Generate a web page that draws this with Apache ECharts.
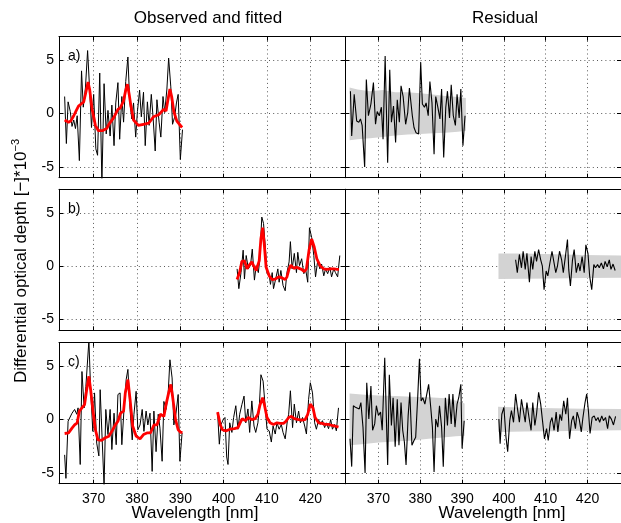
<!DOCTYPE html>
<html><head><meta charset="utf-8">
<script src="https://cdn.jsdelivr.net/npm/echarts@6/dist/echarts.min.js"></script>
<style>html,body{margin:0;padding:0;background:#fff}#c{width:621px;height:523px}</style>
</head><body><div id="c"></div>
<script>
// ---------- DATA (wavelength nm, value 1e-3) ----------
const xTicks = [370, 380, 390, 400, 410, 420];
const yTicks = [-5, 0, 5];
const panelLabels = ['a)', 'b)', 'c)'];
const colTitles = ['Observed and fitted', 'Residual'];

// Row a
const obsA = [[363.3,1.6],[363.7,-2.8],[364.1,1.1],[364.6,0.2],[365.0,-1.2],[365.4,-0.6],[365.8,-1.4],[366.2,-0.2],[366.7,-4.4],[367.2,4.0],[367.6,0.6],[368.1,2.4],[368.6,5.9],[369.1,2.0],[369.5,-1.3],[370.0,1.8],[370.5,-3.3],[370.9,-3.9],[371.4,3.8],[371.9,-6.5],[372.4,2.8],[372.9,-1.9],[373.3,0.3],[373.8,-2.1],[374.2,0.8],[374.7,-3.0],[375.1,1.0],[375.6,2.9],[376.0,-2.4],[376.5,1.6],[376.9,-0.8],[377.4,3.0],[377.9,5.3],[378.3,1.3],[378.8,-0.5],[379.2,1.0],[379.7,-2.2],[380.1,0.2],[380.6,2.2],[381.0,-0.3],[381.5,2.0],[381.9,-3.0],[382.4,1.1],[382.8,-1.1],[383.3,1.8],[383.7,-0.3],[384.2,-3.5],[384.6,1.3],[385.1,-0.8],[385.5,-2.2],[386.0,1.6],[386.4,0.1],[386.9,2.3],[387.3,5.2],[387.8,2.5],[388.2,-1.0],[388.7,-0.3],[389.1,1.0],[389.5,1.8],[390.0,-4.3],[390.5,-1.5]];
const fitA = [[363.3,-0.6],[364.2,-0.8],[364.7,-0.7],[365.4,-0.2],[366.0,0.3],[366.5,0.7],[367.1,0.9],[367.7,1.1],[368.2,2.0],[368.7,2.95],[369.1,2.2],[369.6,0.5],[370.4,-1.1],[371.1,-1.6],[372.0,-1.6],[373.0,-1.4],[373.5,-1.0],[374.6,-0.4],[375.6,0.4],[376.1,0.5],[376.9,1.2],[377.4,2.2],[377.8,2.75],[378.2,1.8],[378.6,0.7],[379.2,-0.6],[380.3,-1.1],[381.5,-1.0],[382.7,-0.9],[383.8,-0.3],[385.0,-0.1],[386.2,0.4],[386.7,0.25],[387.1,1.2],[387.6,2.3],[388.0,1.6],[388.5,0.2],[389.2,-0.7],[390.4,-1.3]];
const resA = [[363.3,2.1],[363.6,-2.1],[364.2,1.8],[364.8,-0.7],[365.3,-0.8],[365.7,-0.5],[366.1,-1.1],[366.7,-5.0],[367.1,3.2],[367.6,-0.2],[368.2,0.9],[368.8,2.9],[369.3,-1.0],[369.7,0.2],[370.2,-0.2],[370.7,0.6],[371.1,-2.4],[371.6,5.4],[372.2,-4.6],[372.7,4.1],[373.1,-0.8],[373.6,0.7],[374.1,-2.7],[374.5,1.3],[375.0,-0.8],[375.4,2.6],[375.9,1.6],[376.5,-1.0],[377.0,0.1],[377.4,2.4],[378.1,-0.2],[378.5,-1.3],[379.0,-1.8],[379.6,-1.9],[380.1,4.8],[380.5,0.9],[381.0,0.6],[381.4,1.0],[381.9,-0.2],[382.3,3.0],[382.8,1.0],[383.3,-3.8],[383.7,1.6],[384.2,0.6],[384.7,-0.5],[385.1,2.3],[385.6,-4.1],[386.1,0.6],[386.5,2.1],[387.0,-0.4],[387.4,2.7],[387.9,-0.2],[388.4,-1.1],[388.8,1.8],[389.3,-0.4],[389.7,2.3],[390.2,-3.0],[390.7,-0.2]];
const bandA = [[363.1,2.45,-2.5],[365,2.25,-2.4],[368,2.1,-2.3],[371,2.2,-2.2],[374,2.0,-2.05],[377,2.0,-1.95],[380,1.9,-1.9],[383,1.8,-1.85],[386,1.65,-1.8],[389,1.55,-1.7],[390.9,1.45,-1.6]];

// Row b
const obsB = [[403.1,-0.25],[403.5,-2.1],[404.0,-0.6],[404.5,1.5],[404.8,-1.2],[405.2,1.0],[405.7,-0.25],[406.2,0.1],[406.6,1.6],[407.1,-1.3],[407.5,0.05],[408.0,-0.6],[408.3,0.5],[408.8,4.6],[409.2,4.0],[409.7,1.3],[410.0,-0.7],[410.5,-0.8],[410.8,-1.7],[411.2,-0.6],[411.5,-2.1],[412.0,-1.2],[412.5,-0.25],[412.8,-1.5],[413.2,-0.4],[413.7,-1.8],[414.2,-2.3],[414.6,-0.6],[415.1,0.4],[415.4,2.3],[415.8,-0.25],[416.3,1.2],[416.8,-0.6],[417.1,1.3],[417.5,0.05],[418.0,0.7],[418.5,-0.7],[418.9,-0.25],[419.4,-1.5],[419.8,3.6],[420.3,2.7],[420.8,1.0],[421.2,-1.0],[421.7,0.5],[422.2,-0.25],[422.6,0.2],[423.1,-0.9],[423.5,-0.25],[424.0,-0.7],[424.5,-0.1],[424.9,-1.0],[425.4,-0.25],[425.8,-0.6],[426.3,-1.0],[426.8,1.0]];
const fitB = [[403.1,-1.25],[403.7,-0.55],[404.2,0.45],[404.8,0.5],[405.4,-0.25],[405.8,0.05],[406.5,0.4],[406.9,0.05],[407.5,-0.4],[408.2,0.5],[408.6,2.6],[409.0,3.6],[409.4,1.9],[409.8,-0.1],[410.5,-0.9],[411.2,-1.25],[411.9,-1.2],[412.7,-1.0],[413.5,-1.1],[414.2,-1.25],[414.6,-1.0],[415.1,-0.25],[415.5,0.1],[416.2,-0.2],[416.8,-0.1],[417.4,-0.2],[418.0,-0.3],[418.6,-0.5],[419.1,-0.25],[419.7,1.5],[420.3,2.55],[420.9,1.8],[421.5,0.7],[422.3,0.0],[423.1,-0.25],[423.8,-0.3],[424.6,-0.25],[425.4,-0.25],[426.2,-0.3],[426.6,-0.3]];
const resB = [[402.8,0.6],[403.2,-0.6],[403.7,1.1],[404.2,-0.15],[404.6,1.4],[405.1,-0.3],[405.5,1.2],[406.1,-1.5],[406.5,0.9],[406.9,-0.3],[407.4,1.4],[407.8,0.45],[408.3,1.55],[408.8,0.6],[409.2,0.0],[409.6,-2.2],[410.1,-0.45],[410.5,-0.9],[411.0,0.3],[411.5,1.4],[411.9,1.55],[412.4,-0.6],[412.8,0.0],[413.3,1.4],[413.8,0.6],[414.2,-0.6],[414.7,0.9],[415.2,2.5],[415.5,-0.3],[415.9,-1.85],[416.4,0.6],[416.8,1.55],[417.3,-0.6],[417.8,0.3],[418.2,-0.45],[418.7,0.9],[419.2,-0.6],[419.6,2.0],[420.1,1.2],[420.5,-0.9],[421.0,-2.2],[421.5,0.15],[421.9,-0.15],[422.4,0.15],[422.8,-0.15],[423.3,0.3],[423.8,-0.25],[424.2,0.45],[424.7,-0.05],[425.2,0.6],[425.6,-0.3],[426.1,0.2],[426.6,-0.4]];
const bandB = [[398.7,1.2,-1.2],[405,1.18,-1.18],[412,1.12,-1.14],[419,1.05,-1.1],[428,1.0,-1.08]];

// Row c
const obsC1 = [[363.3,-3.3],[363.6,-5.5],[364.1,-0.15],[364.5,0.0],[365.0,0.6],[365.3,0.5],[365.6,0.95],[366.1,0.5],[366.4,1.1],[366.9,-4.2],[367.3,4.5],[367.8,1.1],[368.2,3.1],[368.9,7.4],[369.3,2.8],[369.8,-1.1],[370.2,2.5],[370.7,-2.2],[371.2,-3.4],[371.5,2.8],[371.9,-1.25],[372.4,-6.2],[372.8,0.95],[373.3,-1.4],[373.8,0.95],[374.2,-2.8],[374.7,0.6],[375.2,-2.35],[375.6,2.35],[376.1,2.5],[376.5,-2.35],[377.0,0.95],[377.5,3.75],[377.9,4.7],[378.4,0.95],[378.9,-1.9],[379.3,0.5],[379.8,2.65],[380.2,-0.95],[380.7,-0.5],[381.2,0.95],[381.6,-1.1],[382.1,0.8],[382.5,-0.5],[383.0,0.6],[383.5,-4.85],[383.9,0.8],[384.4,-3.0],[384.9,0.5],[385.3,-0.8],[385.8,-3.9],[386.2,1.7],[386.7,0.95],[387.2,2.5],[387.6,5.6],[388.1,3.9],[388.5,-0.5],[389.0,0.6],[389.5,2.35],[389.9,-3.9],[390.4,-1.25]];
const fitC1 = [[363.3,-1.3],[364.2,-1.25],[365.0,-0.8],[365.6,-0.5],[366.2,-0.3],[366.7,0.8],[367.3,1.1],[367.9,1.4],[368.5,3.1],[368.9,4.05],[369.3,2.8],[369.8,0.95],[370.4,-0.95],[371.0,-1.9],[371.8,-1.95],[372.7,-1.7],[373.5,-1.55],[374.2,-1.1],[375.0,-0.5],[375.6,-0.15],[376.2,0.6],[376.9,0.8],[377.3,2.5],[377.9,3.75],[378.4,1.9],[379.0,-0.6],[379.8,-1.55],[380.7,-1.8],[381.5,-1.4],[382.3,-1.25],[383.1,-1.25],[383.9,-0.5],[384.6,-0.5],[385.4,0.5],[386.2,0.3],[386.7,1.4],[387.3,2.5],[387.8,3.3],[388.2,2.2],[388.9,0.0],[389.5,-0.95],[390.1,-1.2],[390.5,-1.2]];
const obsC2 = [[398.6,0.65],[399.0,-2.3],[399.4,-0.45],[399.9,0.0],[400.3,0.2],[400.7,-3.5],[401.0,-4.2],[401.4,-0.3],[401.9,-1.2],[402.3,0.2],[402.8,1.3],[403.3,-0.9],[403.7,0.5],[404.2,1.4],[404.7,2.2],[405.1,-0.3],[405.6,1.0],[406.0,-1.2],[406.5,1.75],[407.0,-0.6],[407.4,-1.2],[407.9,-0.3],[408.2,1.0],[408.6,4.2],[409.1,3.6],[409.6,1.1],[410.0,-0.9],[410.5,-1.05],[411.0,-2.1],[411.4,-0.6],[411.9,-1.35],[412.3,-0.3],[412.8,-0.9],[413.3,-0.45],[413.7,-1.2],[414.2,-1.8],[414.7,-0.1],[415.0,0.5],[415.4,2.7],[415.9,-0.75],[416.3,1.45],[416.8,-0.3],[417.3,0.8],[417.7,-0.3],[418.2,0.2],[418.7,-0.6],[419.1,-1.35],[419.6,1.9],[420.0,3.45],[420.5,2.5],[421.0,-0.3],[421.4,-0.9],[421.9,0.0],[422.3,-0.45],[422.8,-0.1],[423.3,-0.75],[423.7,-0.3],[424.2,-0.85],[424.7,0.0],[425.1,-0.9],[425.6,-0.45],[426.0,-1.05],[426.5,1.1]];
const fitC2 = [[398.6,0.7],[399.2,-0.45],[399.7,-0.95],[400.5,-1.05],[401.5,-0.9],[402.5,-0.85],[403.3,-0.75],[403.8,-0.3],[404.3,0.1],[405.0,-0.1],[405.7,0.2],[406.5,0.0],[407.3,0.1],[407.9,0.5],[408.4,1.4],[409.0,2.05],[409.4,1.4],[410.0,0.2],[410.7,-0.3],[411.5,-0.45],[412.3,-0.3],[413.0,-0.35],[413.8,-0.35],[414.3,-0.2],[415.0,0.2],[415.6,0.3],[416.3,0.1],[417.3,0.0],[418.0,-0.05],[418.8,0.0],[419.4,0.5],[420.0,1.45],[420.6,1.1],[421.1,0.2],[421.9,-0.3],[422.7,-0.35],[423.4,-0.45],[424.2,-0.45],[425.0,-0.55],[425.7,-0.6],[426.5,-0.7]];
const resC1 = [[363.2,-1.8],[363.6,-4.4],[364.0,1.3],[364.5,1.15],[364.9,1.3],[365.4,1.0],[365.8,1.6],[366.3,-0.7],[366.8,-5.0],[367.2,3.45],[367.7,0.05],[368.2,3.15],[368.6,-1.0],[369.1,-0.4],[369.5,1.3],[370.0,0.4],[370.5,0.7],[370.9,-1.0],[371.5,5.8],[372.2,-4.25],[372.6,4.2],[373.1,-0.55],[373.5,2.05],[374.0,-2.55],[374.5,1.9],[374.9,-2.4],[375.4,1.6],[375.8,-1.0],[376.2,-2.1],[376.6,-4.25],[377.1,0.35],[377.5,2.55],[378.0,-2.4],[378.5,-1.95],[378.9,-1.65],[379.4,2.2],[379.8,5.7],[380.2,1.75],[380.6,2.05],[381.1,1.45],[381.5,1.6],[382.0,3.3],[382.5,1.15],[382.9,-0.7],[383.3,-4.9],[383.7,0.05],[384.2,-0.7],[384.6,1.3],[385.1,-0.7],[385.5,-4.4],[386.0,2.05],[386.5,-0.55],[386.9,2.4],[387.4,-0.4],[387.8,2.4],[388.3,-0.7],[388.8,1.45],[389.2,2.05],[389.7,3.3],[390.0,-2.7],[390.5,-0.1]];
const resC2 = [[398.8,0.05],[399.1,-2.25],[399.5,0.5],[400.0,1.15],[400.5,-1.65],[400.9,-3.0],[401.4,-0.1],[401.8,0.85],[402.3,-0.25],[402.8,2.4],[403.2,1.15],[403.7,-0.25],[404.2,1.9],[404.6,1.75],[405.1,-0.25],[405.5,1.6],[406.0,0.2],[406.5,-1.0],[406.9,1.6],[407.4,-0.55],[407.8,0.5],[408.3,2.55],[408.8,1.45],[409.2,1.3],[409.7,-1.8],[410.2,-0.85],[410.6,-1.95],[411.1,-0.25],[411.5,0.2],[412.0,-1.0],[412.5,0.7],[412.9,-1.15],[413.4,0.5],[413.8,-0.1],[414.3,1.75],[414.8,0.5],[415.2,2.05],[415.7,-1.8],[416.2,-0.1],[416.6,0.35],[417.1,-0.85],[417.5,0.7],[418.0,0.05],[418.5,-1.15],[418.9,0.2],[419.4,1.6],[419.8,2.4],[420.2,0.85],[420.6,-1.3],[421.1,0.2],[421.6,0.35],[422.0,-0.1],[422.5,0.2],[422.9,-0.25],[423.4,0.35],[423.8,-0.1],[424.3,0.2],[424.8,-0.85],[425.2,0.35],[425.7,0.05],[426.2,-0.5],[426.7,0.3]];
const bandC1 = [[363.1,2.45,-2.4],[366,2.35,-2.3],[370,2.25,-2.15],[374,2.2,-2.05],[378,2.15,-1.95],[382,2.1,-1.8],[386,2.0,-1.65],[388.5,1.8,-1.55],[390.6,1.5,-1.5]];
const bandC2 = [[398.6,1.2,-1.17],[405,1.12,-1.12],[412,1.07,-1.08],[419,1.02,-1.04],[428,1.0,-1.0]];

// ---------- LAYOUT ----------
const FONT = "'Liberation Sans', Arial, Helvetica, sans-serif";
const ROW_TOP = [36.7, 189.3, 342.7], ROW_H = 141;
const COL_LEFT = [59, 345], COL_W = 286;
const XMIN = 362, XMAX = 428, YMIN = -6, YMAX = 7.2;

const grids = [], xAxes = [], yAxes = [], series = [];
const dotted = { type: [1, 3.2], color: '#222', width: 1, opacity: 0.75 };
for (let r = 0; r < 3; r++) for (let c = 0; c < 2; c++) {
  const gi = grids.length;
  grids.push({ left: COL_LEFT[c], top: ROW_TOP[r], width: COL_W, height: ROW_H, show: false });
  const lastRow = r === 2;
  xAxes.push({ gridIndex: gi, type: 'value', min: XMIN, max: XMAX, position: 'bottom',
    axisLine: { show: true, onZero: false, lineStyle: { color: '#000', width: 1 } },
    axisTick: { show: true, inside: true, length: 4, customValues: xTicks, lineStyle: { color: '#000' } },
    axisLabel: { show: lastRow, customValues: xTicks, color: '#000', fontSize: 14, fontFamily: FONT, margin: 8 },
    splitLine: { show: true, lineStyle: dotted } });
  xAxes.push({ gridIndex: gi, type: 'value', min: XMIN, max: XMAX, position: 'top',
    axisLine: { show: true, onZero: false, lineStyle: { color: '#000', width: 1 } },
    axisTick: { show: true, inside: true, length: 4, customValues: xTicks, lineStyle: { color: '#000' } },
    axisLabel: { show: false }, splitLine: { show: false } });
  yAxes.push({ gridIndex: gi, type: 'value', min: YMIN, max: YMAX, position: 'left',
    axisLine: { show: true, onZero: false, lineStyle: { color: '#000', width: 1 } },
    axisTick: { show: true, inside: true, length: 4, customValues: yTicks, lineStyle: { color: '#000' } },
    axisLabel: { show: c === 0, customValues: yTicks, color: '#000', fontSize: 14, fontFamily: FONT, margin: 5 },
    splitLine: { show: true, lineStyle: dotted } });
  yAxes.push({ gridIndex: gi, type: 'value', min: YMIN, max: YMAX, position: 'right',
    axisLine: { show: true, onZero: false, lineStyle: { color: '#000', width: 1 } },
    axisTick: { show: true, inside: true, length: 4, customValues: yTicks, lineStyle: { color: '#000' } },
    axisLabel: { show: false }, splitLine: { show: false } });
}
function ax(r, c) { const gi = r * 2 + c; return { xAxisIndex: gi * 2, yAxisIndex: gi * 2 }; }
function line(r, c, data, color, width, z) {
  return Object.assign({ type: 'line', data: data, symbol: 'none', silent: true, animation: false, z: z,
    lineStyle: { color: color, width: width }, clip: true }, ax(r, c));
}
function band(r, c, b) {
  return Object.assign({ type: 'custom', data: [[b[0][0], 0]], clip: true, silent: true, animation: false, z: 1,
    renderItem: function (params, api) {
      const pts = [];
      for (let i = 0; i < b.length; i++) pts.push(api.coord([b[i][0], b[i][1]]));
      for (let i = b.length - 1; i >= 0; i--) pts.push(api.coord([b[i][0], b[i][2]]));
      return { type: 'polygon', shape: { points: pts }, style: { fill: '#d3d3d3', stroke: null } };
    } }, ax(r, c));
}
const BLACK = '#000', RED = '#ff0000';
series.push(line(0, 0, obsA, BLACK, 1, 2), line(0, 0, fitA, RED, 2.8, 3));
series.push(band(0, 1, bandA), line(0, 1, resA, BLACK, 1.1, 2));
series.push(line(1, 0, obsB, BLACK, 1, 2), line(1, 0, fitB, RED, 2.8, 3));
series.push(band(1, 1, bandB), line(1, 1, resB, BLACK, 1.1, 2));
series.push(line(2, 0, obsC1, BLACK, 1, 2), line(2, 0, obsC2, BLACK, 1, 2),
            line(2, 0, fitC1, RED, 2.8, 3), line(2, 0, fitC2, RED, 2.8, 3));
series.push(band(2, 1, bandC1), band(2, 1, bandC2), line(2, 1, resC1, BLACK, 1.1, 2), line(2, 1, resC2, BLACK, 1.1, 2));

const txt = (x, y, text, size, extra) => Object.assign({ type: 'text', x: x, y: y, silent: true,
  style: { text: text, font: size + 'px ' + FONT, fill: '#000', align: 'center', verticalAlign: 'middle' } }, extra || {});
const graphic = [
  txt(208, 18, colTitles[0], 17),
  txt(505, 18, colTitles[1], 17),
  txt(195, 513, 'Wavelength [nm]', 17),
  txt(502, 513, 'Wavelength [nm]', 17),
  { type: 'text', x: 21, y: 261, rotation: Math.PI / 2, silent: true,
    style: { text: 'Differential optical depth [−]*10{s|−3}', font: '17px ' + FONT, fill: '#000',
      align: 'center', verticalAlign: 'middle',
      rich: { s: { fontSize: 11, fontFamily: FONT, padding: [0, 0, 10, 0] } } } }
];
for (let r = 0; r < 3; r++) {
  graphic.push({ type: 'text', x: 68, y: ROW_TOP[r] + 19.5, silent: true,
    style: { text: panelLabels[r], font: '14px ' + FONT, fill: '#000', align: 'left', verticalAlign: 'middle' } });
}

const chart = echarts.init(document.getElementById('c'), null, { renderer: 'canvas' });
chart.setOption({ animation: false, backgroundColor: '#fff', grid: grids, xAxis: xAxes, yAxis: yAxes, series: series, graphic: graphic });
</script></body></html>
